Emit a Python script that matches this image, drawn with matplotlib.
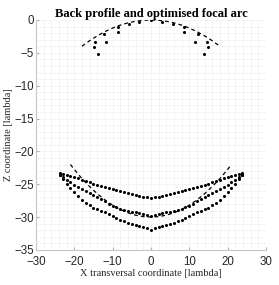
import numpy as np
import matplotlib
matplotlib.use("Agg")
import matplotlib.pyplot as plt
from matplotlib.ticker import MultipleLocator

# ---- data (curves are symmetric about x=0) ----
half_x = [0, 1, 2, 3, 4, 5, 6, 7, 8, 9, 10, 11, 12, 13, 14, 15, 16, 17, 18, 19, 20, 21, 22, 23, 23.7]
top_z = [-27.1, -27.0, -26.9, -26.75, -26.6, -26.5, -26.35, -26.2, -26.05, -25.9, -25.75, -25.6,
         -25.45, -25.3, -25.1, -24.9, -24.7, -24.5, -24.3, -24.1, -23.9, -23.75, -23.6, -23.45, -23.35]
mid_z = [-29.9, -29.75, -29.6, -29.45, -29.3, -29.15, -29.0, -28.85, -28.7, -28.5, -28.3, -28.0,
         -27.6, -27.3, -27.0, -26.7, -26.4, -26.1, -25.8, -25.45, -25.1, -24.7, -24.3, -23.9, -23.6]
bot_z = [-31.9, -31.7, -31.5, -31.35, -31.2, -31.05, -30.9, -30.65, -30.4, -30.15, -29.9, -29.6,
         -29.3, -29.05, -28.8, -28.55, -28.2, -27.8, -27.35, -26.8, -26.2, -25.6, -24.9, -24.2, -23.6]

back_x = [0, 2, 4, 6, 8, 10, 12, 14, 16, 18]
back_z = [0.0, -0.05, -0.2, -0.44, -0.79, -1.23, -1.78, -2.42, -3.16, -4.0]

arc_x = [0, 2, 4, 6, 8, 10, 12, 14, 16, 18, 20, 21]
arc_z = [-30.0, -29.93, -29.71, -29.35, -28.84, -28.19, -27.39, -26.45, -25.36, -24.14, -22.76, -22.0]

focal_x = [0.0, 3.0, 5.8, 8.7, 8.7, 12.2, 11.6, 14.6, 14.8, 13.9]
focal_z = [0.0, -0.25, -0.6, -1.1, -1.8, -2.1, -3.4, -3.3, -4.05, -5.2]

title = "Back profile and optimised focal arc"
xlabel = "X transversal coordinate [lambda]"
ylabel = "Z coordinate [lambda]"


def mirror(xs, zs):
    xs = list(xs)
    zs = list(zs)
    fx = [-v for v in xs[::-1]] + xs[1:]
    fz = zs[::-1] + zs[1:]
    return fx, fz


fig = plt.figure(figsize=(2.79, 2.85), dpi=100)
ax = fig.add_axes([0.129, 0.123, 0.824, 0.807])

ax.set_xlim(-30, 30)
ax.set_ylim(-35, 0)
ax.xaxis.set_major_locator(MultipleLocator(10))
ax.yaxis.set_major_locator(MultipleLocator(5))
ax.xaxis.set_minor_locator(MultipleLocator(2))
ax.yaxis.set_minor_locator(MultipleLocator(1))
ax.grid(True, which='both', color='#f0f0f0', linewidth=0.5)
ax.set_axisbelow(True)

for s in ['top', 'right']:
    ax.spines[s].set_visible(False)
for s in ['left', 'bottom']:
    ax.spines[s].set_color('#c8c8c8')
    ax.spines[s].set_linewidth(0.8)
ax.tick_params(which='both', direction='in', length=2, color='#b0b0b0',
               labelsize=8.3, labelcolor='#262626')
ax.tick_params(axis='x', pad=4.5)
ax.tick_params(axis='y', pad=1.5)
ax.tick_params(which='minor', length=0)
for lbl in ax.get_xticklabels() + ax.get_yticklabels():
    lbl.set_family('Liberation Sans')

# back profile (dashed)
bx, bz = mirror(back_x, back_z)
ax.plot(bx, bz, color='black', linestyle=(0, (3, 2.5)), linewidth=0.9)

# focal arc (dashed)
axx, azz = mirror(arc_x, arc_z)
ax.plot(axx, azz, color='black', linestyle=(0, (3, 2.5)), linewidth=0.9)

# focal points near top
fx = [-v for v in focal_x[::-1]] + focal_x[1:]
fz = focal_z[::-1] + focal_z[1:]
ax.plot(fx, fz, linestyle='none', marker='o', markersize=1.2, color='black')

# three dotted profiles
for zs in (top_z, mid_z, bot_z):
    cx, cz = mirror(half_x, zs)
    ax.plot(cx, cz, linestyle='none', marker='o', markersize=1.2, color='black')

ax.set_title(title, fontsize=9, fontweight='bold', family='Liberation Serif', pad=2)
ax.set_xlabel(xlabel, fontsize=7.5, family='Liberation Serif', color='#262626', labelpad=0.5)
ax.set_ylabel(ylabel, fontsize=7.5, family='Liberation Serif', color='#262626', labelpad=1)

fig.savefig('out.png', dpi=100)
